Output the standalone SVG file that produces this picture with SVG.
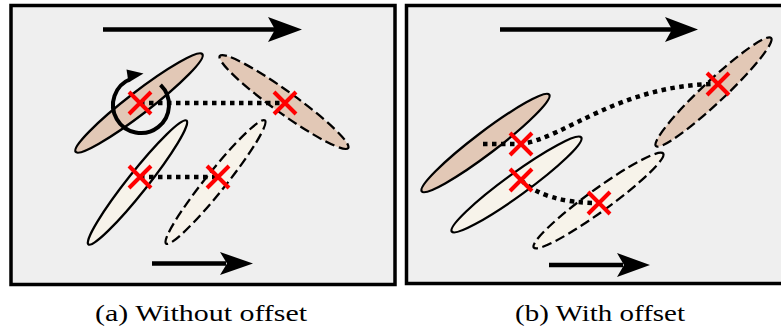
<svg xmlns="http://www.w3.org/2000/svg" width="781" height="329" viewBox="0 0 781 329">
<style>
.frame{fill:#efefef;stroke:#000;stroke-width:3.5}
.brown{fill:#e2c8b6;stroke:#000;stroke-width:2.3}
.cream{fill:#f7f3ea;stroke:#000;stroke-width:2.3}
.dash{stroke-dasharray:10 4.5}
.dot{fill:none;stroke:#000;stroke-width:4.5;stroke-dasharray:4.5 4.5}
.x{stroke:#ff0000;stroke-width:4;fill:none}
.shaft{stroke:#000;stroke-width:4.3;fill:none}
.head{fill:#000}
.cap{font-family:"Liberation Serif","Times New Roman",serif;font-size:24px;fill:#000}
</style>
<defs>
<g id="xmark"><path class="x" d="M-11,-11L11,11M-11,11L11,-11"/></g>
</defs>
<g id="panel-a">
<rect class="frame" x="11" y="5.5" width="384" height="279"/>
</g>
<g id="panel-b">
<rect class="frame" x="406.5" y="5.5" width="380" height="278"/>
</g>
<g id="motion-arrows">
<path class="shaft" d="M103,29.5H276"/>
<path class="head" d="M268,17L302,29.5L268,42L275,29.5Z"/>
<path class="shaft" d="M152,263.5H226"/>
<path class="head" d="M220,252L253,263.5L220,275L227,263.5Z"/>
<path class="shaft" d="M500,29.5H672"/>
<path class="head" d="M665,17L698,29.5L665,42L672,29.5Z"/>
<path class="shaft" d="M549,265H623"/>
<path class="head" d="M617,253L650,265L617,277L624,265Z"/>
</g>
<g id="ellipse-a1"><ellipse class="brown" cx="139" cy="103" rx="80" ry="11" transform="rotate(-37.6 139 103)"/></g>
<g id="ellipse-a2"><ellipse class="brown dash" cx="284" cy="102" rx="79" ry="11" transform="rotate(35.7 284 102)"/></g>
<g id="ellipse-a3"><ellipse class="cream" cx="137.5" cy="182.5" rx="79" ry="10" transform="rotate(-51.6 137.5 182.5)"/></g>
<g id="ellipse-a4"><ellipse class="cream dash" cx="215.5" cy="182" rx="79" ry="10" transform="rotate(-51.3 215.5 182)"/></g>
<g id="rotation">
<path d="M160.5,84.9A28,28 0 1 1 130.5,79" fill="none" stroke="#000" stroke-width="4"/>
<path class="head" d="M126.5,69.5L143.5,73.5L128.5,82.5Z"/>
</g>
<g id="ellipse-b1"><ellipse class="brown" cx="485.5" cy="143" rx="80" ry="11" transform="rotate(-37.2 485.5 143)"/></g>
<g id="ellipse-b2"><ellipse class="cream" cx="516.5" cy="184.5" rx="80" ry="11" transform="rotate(-36 516.5 184.5)"/></g>
<g id="ellipse-b3"><ellipse class="brown dash" cx="713.5" cy="92" rx="79" ry="11" transform="rotate(-43.2 713.5 92)"/></g>
<g id="ellipse-b4"><ellipse class="cream dash" cx="598.5" cy="200.5" rx="80" ry="11" transform="rotate(-36 598.5 200.5)"/></g>
<g id="connectors">
<path class="dot" d="M140,103H285"/>
<path class="dot" d="M140,177H218"/>
<path class="dot" d="M483,144L521,144C565,138 620,84 718,84"/>
<path class="dot" d="M521,180Q545,203 599,203"/>
</g>
<g id="markers">
<use href="#xmark" x="140" y="103"/>
<use href="#xmark" x="285" y="103"/>
<use href="#xmark" x="140" y="177"/>
<use href="#xmark" x="218" y="177"/>
<use href="#xmark" x="521" y="144"/>
<use href="#xmark" x="521" y="180"/>
<use href="#xmark" x="718" y="84"/>
<use href="#xmark" x="599" y="203"/>
</g>
<g id="captions">
<text class="cap" x="95" y="321" textLength="212" lengthAdjust="spacingAndGlyphs">(a) Without offset</text>
<text class="cap" x="515" y="321" textLength="170" lengthAdjust="spacingAndGlyphs">(b) With offset</text>
</g>
</svg>
